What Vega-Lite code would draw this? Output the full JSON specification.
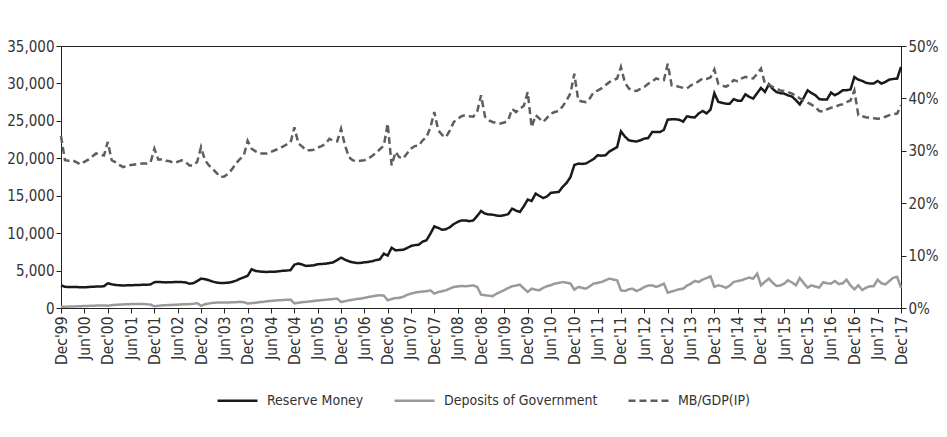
{
"$schema":"https://vega.github.io/schema/vega-lite/v6.json",
"width":840,"height":262,
"autosize":{"type":"none"},
"padding":{"left":61,"top":46,"right":46,"bottom":129},
"background":"white",
"config":{"font":"'Liberation Sans Narrow', 'DejaVu Sans Condensed', Roboto, sans-serif","view":{"stroke":"#222","strokeWidth":1},
"axis":{"grid":false,"domainColor":"#222","tickColor":"#222","tickSize":5,"labelColor":"#333","labelFontSize":15,"title":null,"labelPadding":2}},
"data":{"values":[
{"d":"1999-12-01","rm":3030,"dg":150,"mb":32.8},
{"d":"2000-01-01","rm":2830,"dg":170,"mb":28.2},{"d":"2000-02-01","rm":2800,"dg":190,"mb":28.1},{"d":"2000-03-01","rm":2790,"dg":200,"mb":28.2},{"d":"2000-04-01","rm":2800,"dg":220,"mb":27.8},{"d":"2000-05-01","rm":2770,"dg":240,"mb":27.4},{"d":"2000-06-01","rm":2760,"dg":260,"mb":27.9},{"d":"2000-07-01","rm":2800,"dg":280,"mb":28.3},{"d":"2000-08-01","rm":2840,"dg":300,"mb":28.9},{"d":"2000-09-01","rm":2860,"dg":320,"mb":29.5},{"d":"2000-10-01","rm":2880,"dg":330,"mb":29.3},{"d":"2000-11-01","rm":2900,"dg":350,"mb":29.1},{"d":"2000-12-01","rm":3300,"dg":300,"mb":31.7},
{"d":"2001-01-01","rm":3160,"dg":380,"mb":28.2},{"d":"2001-02-01","rm":3080,"dg":420,"mb":27.8},{"d":"2001-03-01","rm":3030,"dg":450,"mb":27.3},{"d":"2001-04-01","rm":3010,"dg":480,"mb":26.9},{"d":"2001-05-01","rm":3030,"dg":500,"mb":27.1},{"d":"2001-06-01","rm":3040,"dg":520,"mb":27.3},{"d":"2001-07-01","rm":3060,"dg":540,"mb":27.4},{"d":"2001-08-01","rm":3080,"dg":550,"mb":27.5},{"d":"2001-09-01","rm":3100,"dg":540,"mb":27.6},{"d":"2001-10-01","rm":3100,"dg":500,"mb":27.6},{"d":"2001-11-01","rm":3150,"dg":450,"mb":27.8},{"d":"2001-12-01","rm":3450,"dg":230,"mb":30.4},
{"d":"2002-01-01","rm":3470,"dg":300,"mb":28.3},{"d":"2002-02-01","rm":3450,"dg":350,"mb":28.4},{"d":"2002-03-01","rm":3420,"dg":380,"mb":28.1},{"d":"2002-04-01","rm":3440,"dg":400,"mb":28.0},{"d":"2002-05-01","rm":3460,"dg":420,"mb":27.7},{"d":"2002-06-01","rm":3460,"dg":450,"mb":27.9},{"d":"2002-07-01","rm":3470,"dg":480,"mb":28.2},{"d":"2002-08-01","rm":3420,"dg":500,"mb":27.9},{"d":"2002-09-01","rm":3250,"dg":520,"mb":27.2},{"d":"2002-10-01","rm":3300,"dg":560,"mb":27.2},{"d":"2002-11-01","rm":3600,"dg":650,"mb":27.9},{"d":"2002-12-01","rm":3920,"dg":300,"mb":30.7},
{"d":"2003-01-01","rm":3850,"dg":500,"mb":28.2},{"d":"2003-02-01","rm":3700,"dg":600,"mb":27.2},{"d":"2003-03-01","rm":3530,"dg":680,"mb":26.6},{"d":"2003-04-01","rm":3400,"dg":720,"mb":25.8},{"d":"2003-05-01","rm":3330,"dg":740,"mb":25.0},{"d":"2003-06-01","rm":3350,"dg":750,"mb":25.1},{"d":"2003-07-01","rm":3380,"dg":740,"mb":25.6},{"d":"2003-08-01","rm":3480,"dg":760,"mb":26.5},{"d":"2003-09-01","rm":3650,"dg":780,"mb":27.6},{"d":"2003-10-01","rm":3900,"dg":800,"mb":28.4},{"d":"2003-11-01","rm":4100,"dg":780,"mb":29.1},{"d":"2003-12-01","rm":4300,"dg":600,"mb":31.9},
{"d":"2004-01-01","rm":5170,"dg":650,"mb":30.4},{"d":"2004-02-01","rm":4950,"dg":700,"mb":29.9},{"d":"2004-03-01","rm":4880,"dg":780,"mb":29.5},{"d":"2004-04-01","rm":4830,"dg":820,"mb":29.5},{"d":"2004-05-01","rm":4820,"dg":900,"mb":29.5},{"d":"2004-06-01","rm":4860,"dg":950,"mb":29.8},{"d":"2004-07-01","rm":4850,"dg":1000,"mb":30.1},{"d":"2004-08-01","rm":4900,"dg":1030,"mb":30.4},{"d":"2004-09-01","rm":4970,"dg":1060,"mb":30.8},{"d":"2004-10-01","rm":5000,"dg":1100,"mb":31.2},{"d":"2004-11-01","rm":5060,"dg":1120,"mb":31.6},{"d":"2004-12-01","rm":5790,"dg":620,"mb":34.5},
{"d":"2005-01-01","rm":5940,"dg":700,"mb":31.4},{"d":"2005-02-01","rm":5800,"dg":780,"mb":30.8},{"d":"2005-03-01","rm":5620,"dg":820,"mb":30.1},{"d":"2005-04-01","rm":5650,"dg":880,"mb":30.1},{"d":"2005-05-01","rm":5700,"dg":940,"mb":30.2},{"d":"2005-06-01","rm":5850,"dg":1000,"mb":30.6},{"d":"2005-07-01","rm":5880,"dg":1050,"mb":30.9},{"d":"2005-08-01","rm":5920,"dg":1100,"mb":31.3},{"d":"2005-09-01","rm":6000,"dg":1150,"mb":32.3},{"d":"2005-10-01","rm":6100,"dg":1200,"mb":31.9},{"d":"2005-11-01","rm":6400,"dg":1250,"mb":31.8},{"d":"2005-12-01","rm":6730,"dg":800,"mb":34.2},
{"d":"2006-01-01","rm":6450,"dg":900,"mb":31.0},{"d":"2006-02-01","rm":6240,"dg":1030,"mb":28.8},{"d":"2006-03-01","rm":6100,"dg":1100,"mb":28.2},{"d":"2006-04-01","rm":6020,"dg":1200,"mb":28.0},{"d":"2006-05-01","rm":6010,"dg":1250,"mb":28.1},{"d":"2006-06-01","rm":6100,"dg":1350,"mb":28.2},{"d":"2006-07-01","rm":6150,"dg":1470,"mb":28.5},{"d":"2006-08-01","rm":6250,"dg":1550,"mb":29.0},{"d":"2006-09-01","rm":6400,"dg":1650,"mb":29.6},{"d":"2006-10-01","rm":6500,"dg":1700,"mb":30.3},{"d":"2006-11-01","rm":7270,"dg":1650,"mb":31.0},{"d":"2006-12-01","rm":7000,"dg":1030,"mb":35.2},
{"d":"2007-01-01","rm":8050,"dg":1200,"mb":27.2},{"d":"2007-02-01","rm":7700,"dg":1340,"mb":29.8},{"d":"2007-03-01","rm":7750,"dg":1350,"mb":28.8},{"d":"2007-04-01","rm":7780,"dg":1500,"mb":28.5},{"d":"2007-05-01","rm":8000,"dg":1750,"mb":29.5},{"d":"2007-06-01","rm":8280,"dg":1920,"mb":30.4},{"d":"2007-07-01","rm":8400,"dg":2050,"mb":30.9},{"d":"2007-08-01","rm":8450,"dg":2140,"mb":31.0},{"d":"2007-09-01","rm":8870,"dg":2200,"mb":32.0},{"d":"2007-10-01","rm":9050,"dg":2230,"mb":32.6},{"d":"2007-11-01","rm":9950,"dg":2360,"mb":34.5},{"d":"2007-12-01","rm":10900,"dg":1920,"mb":37.4},
{"d":"2008-01-01","rm":10700,"dg":2140,"mb":33.9},{"d":"2008-02-01","rm":10450,"dg":2250,"mb":33.0},{"d":"2008-03-01","rm":10520,"dg":2360,"mb":32.6},{"d":"2008-04-01","rm":10800,"dg":2600,"mb":33.9},{"d":"2008-05-01","rm":11200,"dg":2810,"mb":35.5},{"d":"2008-06-01","rm":11500,"dg":2880,"mb":36.1},{"d":"2008-07-01","rm":11700,"dg":2940,"mb":36.6},{"d":"2008-08-01","rm":11700,"dg":2900,"mb":36.8},{"d":"2008-09-01","rm":11600,"dg":2950,"mb":36.6},{"d":"2008-10-01","rm":11700,"dg":3030,"mb":36.5},{"d":"2008-11-01","rm":12300,"dg":2800,"mb":37.5},{"d":"2008-12-01","rm":12960,"dg":1800,"mb":40.6},
{"d":"2009-01-01","rm":12600,"dg":1700,"mb":36.5},{"d":"2009-02-01","rm":12500,"dg":1650,"mb":35.8},{"d":"2009-03-01","rm":12470,"dg":1580,"mb":35.5},{"d":"2009-04-01","rm":12350,"dg":1900,"mb":35.3},{"d":"2009-05-01","rm":12300,"dg":2140,"mb":35.2},{"d":"2009-06-01","rm":12400,"dg":2400,"mb":35.4},{"d":"2009-07-01","rm":12530,"dg":2670,"mb":35.8},{"d":"2009-08-01","rm":13280,"dg":2900,"mb":38.0},{"d":"2009-09-01","rm":13000,"dg":3000,"mb":37.4},{"d":"2009-10-01","rm":12830,"dg":3120,"mb":38.0},{"d":"2009-11-01","rm":13600,"dg":2600,"mb":38.6},{"d":"2009-12-01","rm":14480,"dg":2140,"mb":41.2},
{"d":"2010-01-01","rm":14300,"dg":2580,"mb":34.5},{"d":"2010-02-01","rm":15280,"dg":2450,"mb":36.8},{"d":"2010-03-01","rm":15000,"dg":2360,"mb":36.2},{"d":"2010-04-01","rm":14690,"dg":2700,"mb":35.5},{"d":"2010-05-01","rm":14900,"dg":2900,"mb":36.3},{"d":"2010-06-01","rm":15390,"dg":3050,"mb":37.1},{"d":"2010-07-01","rm":15450,"dg":3260,"mb":37.4},{"d":"2010-08-01","rm":15500,"dg":3350,"mb":37.6},{"d":"2010-09-01","rm":16200,"dg":3470,"mb":38.5},{"d":"2010-10-01","rm":16700,"dg":3380,"mb":39.6},{"d":"2010-11-01","rm":17500,"dg":3260,"mb":41.0},{"d":"2010-12-01","rm":19100,"dg":2450,"mb":44.7},
{"d":"2011-01-01","rm":19290,"dg":2810,"mb":39.6},{"d":"2011-02-01","rm":19250,"dg":2700,"mb":39.4},{"d":"2011-03-01","rm":19300,"dg":2580,"mb":39.3},{"d":"2011-04-01","rm":19600,"dg":2900,"mb":40.0},{"d":"2011-05-01","rm":19900,"dg":3260,"mb":41.2},{"d":"2011-06-01","rm":20400,"dg":3350,"mb":41.5},{"d":"2011-07-01","rm":20350,"dg":3470,"mb":41.9},{"d":"2011-08-01","rm":20400,"dg":3700,"mb":42.5},{"d":"2011-09-01","rm":20900,"dg":3920,"mb":43.1},{"d":"2011-10-01","rm":21200,"dg":3800,"mb":43.5},{"d":"2011-11-01","rm":21500,"dg":3700,"mb":43.8},{"d":"2011-12-01","rm":23600,"dg":2360,"mb":46.0},
{"d":"2012-01-01","rm":22900,"dg":2270,"mb":43.0},{"d":"2012-02-01","rm":22400,"dg":2500,"mb":41.9},{"d":"2012-03-01","rm":22300,"dg":2580,"mb":41.5},{"d":"2012-04-01","rm":22250,"dg":2270,"mb":41.4},{"d":"2012-05-01","rm":22400,"dg":2500,"mb":41.8},{"d":"2012-06-01","rm":22630,"dg":2810,"mb":42.2},{"d":"2012-07-01","rm":22700,"dg":3000,"mb":42.8},{"d":"2012-08-01","rm":23500,"dg":3030,"mb":43.2},{"d":"2012-09-01","rm":23500,"dg":2810,"mb":43.8},{"d":"2012-10-01","rm":23500,"dg":3000,"mb":43.6},{"d":"2012-11-01","rm":23800,"dg":3260,"mb":43.5},{"d":"2012-12-01","rm":25170,"dg":2050,"mb":46.6},
{"d":"2013-01-01","rm":25200,"dg":2200,"mb":42.5},{"d":"2013-02-01","rm":25200,"dg":2360,"mb":42.4},{"d":"2013-03-01","rm":25150,"dg":2500,"mb":42.2},{"d":"2013-04-01","rm":24900,"dg":2580,"mb":42.0},{"d":"2013-05-01","rm":25610,"dg":3000,"mb":41.9},{"d":"2013-06-01","rm":25500,"dg":3260,"mb":42.5},{"d":"2013-07-01","rm":25450,"dg":3610,"mb":42.8},{"d":"2013-08-01","rm":26000,"dg":3470,"mb":43.3},{"d":"2013-09-01","rm":26320,"dg":3800,"mb":43.8},{"d":"2013-10-01","rm":26000,"dg":4000,"mb":43.7},{"d":"2013-11-01","rm":26500,"dg":4230,"mb":44.0},{"d":"2013-12-01","rm":28700,"dg":2810,"mb":45.5},
{"d":"2014-01-01","rm":27520,"dg":3030,"mb":42.8},{"d":"2014-02-01","rm":27400,"dg":2900,"mb":42.5},{"d":"2014-03-01","rm":27300,"dg":2700,"mb":42.2},{"d":"2014-04-01","rm":27300,"dg":3000,"mb":42.7},{"d":"2014-05-01","rm":27900,"dg":3470,"mb":43.5},{"d":"2014-06-01","rm":27700,"dg":3600,"mb":43.3},{"d":"2014-07-01","rm":27700,"dg":3700,"mb":43.8},{"d":"2014-08-01","rm":28550,"dg":3900,"mb":44.1},{"d":"2014-09-01","rm":28200,"dg":4060,"mb":43.9},{"d":"2014-10-01","rm":27970,"dg":3920,"mb":43.8},{"d":"2014-11-01","rm":28700,"dg":4590,"mb":44.7},{"d":"2014-12-01","rm":29400,"dg":3030,"mb":45.7},
{"d":"2015-01-01","rm":28860,"dg":3500,"mb":42.8},{"d":"2015-02-01","rm":29890,"dg":3920,"mb":42.6},{"d":"2015-03-01","rm":29300,"dg":3400,"mb":42.2},{"d":"2015-04-01","rm":28850,"dg":2950,"mb":41.9},{"d":"2015-05-01","rm":28700,"dg":3000,"mb":41.5},{"d":"2015-06-01","rm":28640,"dg":3260,"mb":41.4},{"d":"2015-07-01","rm":28400,"dg":3700,"mb":41.2},{"d":"2015-08-01","rm":28250,"dg":3400,"mb":40.9},{"d":"2015-09-01","rm":27750,"dg":3030,"mb":40.5},{"d":"2015-10-01","rm":27200,"dg":4010,"mb":40.0},{"d":"2015-11-01","rm":28100,"dg":3300,"mb":39.6},{"d":"2015-12-01","rm":29080,"dg":2720,"mb":39.2},
{"d":"2016-01-01","rm":28700,"dg":3030,"mb":38.8},{"d":"2016-02-01","rm":28420,"dg":2850,"mb":38.3},{"d":"2016-03-01","rm":27900,"dg":2720,"mb":37.6},{"d":"2016-04-01","rm":27850,"dg":3450,"mb":37.5},{"d":"2016-05-01","rm":27850,"dg":3300,"mb":37.9},{"d":"2016-06-01","rm":28780,"dg":3260,"mb":38.2},{"d":"2016-07-01","rm":28420,"dg":3610,"mb":38.3},{"d":"2016-08-01","rm":28700,"dg":3200,"mb":38.7},{"d":"2016-09-01","rm":29080,"dg":3300,"mb":38.9},{"d":"2016-10-01","rm":29080,"dg":3780,"mb":39.3},{"d":"2016-11-01","rm":29200,"dg":3000,"mb":39.6},{"d":"2016-12-01","rm":30860,"dg":2500,"mb":41.5},
{"d":"2017-01-01","rm":30500,"dg":3030,"mb":36.8},{"d":"2017-02-01","rm":30330,"dg":2400,"mb":36.6},{"d":"2017-03-01","rm":30100,"dg":2700,"mb":36.4},{"d":"2017-04-01","rm":29980,"dg":2900,"mb":36.3},{"d":"2017-05-01","rm":29980,"dg":2900,"mb":36.2},{"d":"2017-06-01","rm":30330,"dg":3780,"mb":36.1},{"d":"2017-07-01","rm":29980,"dg":3300,"mb":36.2},{"d":"2017-08-01","rm":30200,"dg":3150,"mb":36.5},{"d":"2017-09-01","rm":30510,"dg":3600,"mb":36.8},{"d":"2017-10-01","rm":30600,"dg":4050,"mb":37.0},{"d":"2017-11-01","rm":30650,"dg":4150,"mb":37.1},{"d":"2017-12-01","rm":32200,"dg":2720,"mb":38.7}
]},
"transform":[{"fold":["rm","dg","mb"],"as":["s","v"]}],
"encoding":{
 "x":{"field":"d","type":"temporal","scale":{"type":"utc","domain":[{"year":1999,"month":12,"date":1,"utc":true},{"year":2017,"month":12,"date":1,"utc":true}],"nice":false},
  "axis":{"labelAngle":-90,"labelAlign":"right","labelBaseline":"middle","labelFontSize":15.5,"labelPadding":3,"labelFlush":false,"labelOverlap":false,
   "labelExpr":"utcFormat(datum.value, \"%b'%y\")",
   "values":[{"year":1999,"month":12,"utc":true},{"year":2000,"month":6,"utc":true},{"year":2000,"month":12,"utc":true},{"year":2001,"month":6,"utc":true},{"year":2001,"month":12,"utc":true},{"year":2002,"month":6,"utc":true},{"year":2002,"month":12,"utc":true},{"year":2003,"month":6,"utc":true},{"year":2003,"month":12,"utc":true},{"year":2004,"month":6,"utc":true},{"year":2004,"month":12,"utc":true},{"year":2005,"month":6,"utc":true},{"year":2005,"month":12,"utc":true},{"year":2006,"month":6,"utc":true},{"year":2006,"month":12,"utc":true},{"year":2007,"month":6,"utc":true},{"year":2007,"month":12,"utc":true},{"year":2008,"month":6,"utc":true},{"year":2008,"month":12,"utc":true},{"year":2009,"month":6,"utc":true},{"year":2009,"month":12,"utc":true},{"year":2010,"month":6,"utc":true},{"year":2010,"month":12,"utc":true},{"year":2011,"month":6,"utc":true},{"year":2011,"month":12,"utc":true},{"year":2012,"month":6,"utc":true},{"year":2012,"month":12,"utc":true},{"year":2013,"month":6,"utc":true},{"year":2013,"month":12,"utc":true},{"year":2014,"month":6,"utc":true},{"year":2014,"month":12,"utc":true},{"year":2015,"month":6,"utc":true},{"year":2015,"month":12,"utc":true},{"year":2016,"month":6,"utc":true},{"year":2016,"month":12,"utc":true},{"year":2017,"month":6,"utc":true},{"year":2017,"month":12,"utc":true}]}},
 "color":{"field":"s","type":"nominal","scale":{"domain":["rm","dg","mb"],"range":["#1a1a1a","#9a9a9a","#5e5e5e"]},
  "legend":{"title":null,"orient":"none","legendX":155,"legendY":333,"direction":"horizontal","symbolType":"stroke","symbolSize":1600,"symbolStrokeWidth":2.5,"labelFontSize":14,"labelLimit":400,"labelColor":"#333","columnPadding":25,"labelOffset":8,
   "labelExpr":"datum.label == 'rm' ? 'Reserve Money' : datum.label == 'dg' ? 'Deposits of Government' : 'MB/GDP(IP)'"}},
 "strokeDash":{"field":"s","type":"nominal","scale":{"domain":["rm","dg","mb"],"range":[[1,0],[1,0],[7,4]]},"legend":null}
},
"layer":[
 {"transform":[{"filter":"datum.s != 'mb'"}],
  "mark":{"type":"line","strokeWidth":2.5},
  "encoding":{"y":{"field":"v","type":"quantitative","scale":{"domain":[0,35000],"nice":false},"axis":{"values":[0,5000,10000,15000,20000,25000,30000,35000],"format":",.0f"}}}},
 {"transform":[{"filter":"datum.s == 'mb'"}],
  "mark":{"type":"line","strokeWidth":2.5},
  "encoding":{"y":{"field":"v","type":"quantitative","scale":{"domain":[0,50],"nice":false},"axis":{"orient":"right","values":[0,10,20,30,40,50],"labelExpr":"datum.value + '%'"}}}}
],
"resolve":{"scale":{"y":"independent"}}
}
